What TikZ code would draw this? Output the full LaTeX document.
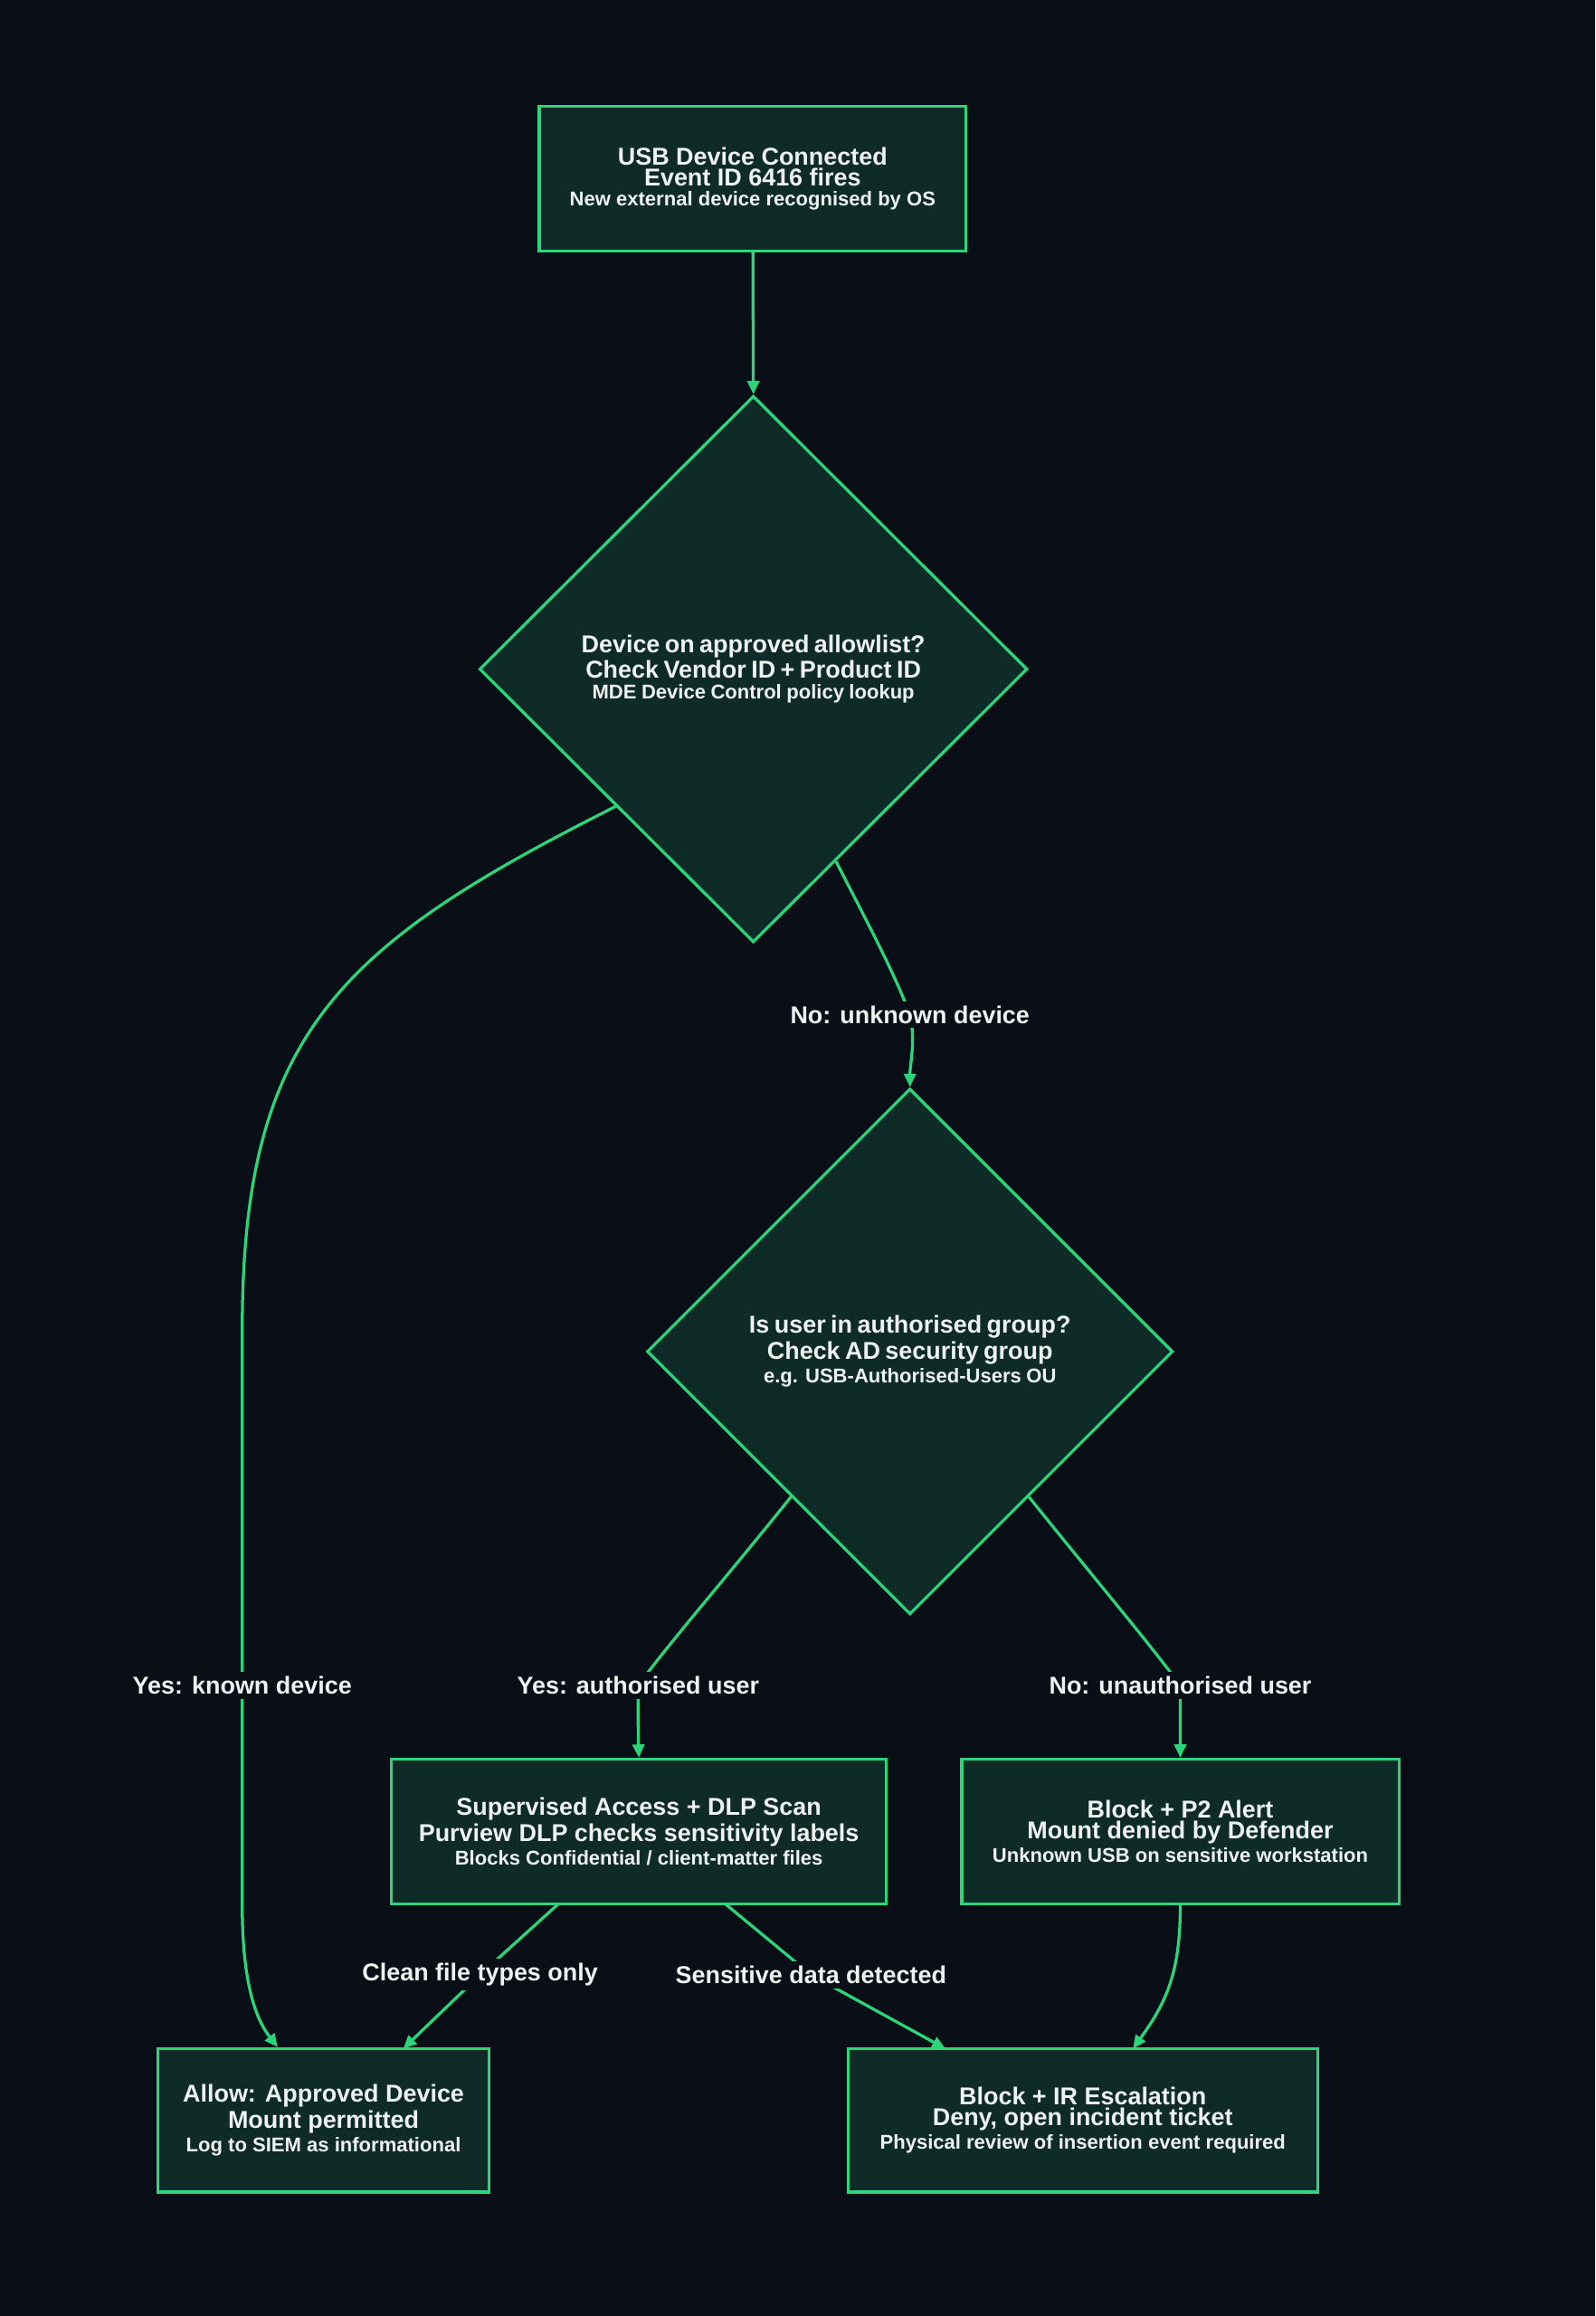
\documentclass[tikz,border=0pt]{standalone}
\usepackage{fontspec}
\setmainfont{Liberation Sans}
\usetikzlibrary{shapes.geometric,calc,arrows.meta}
\definecolor{bg}{HTML}{0A0E17}
\definecolor{nfill}{HTML}{0F2B28}
\definecolor{ln}{HTML}{2BD67B}
\definecolor{tx}{HTML}{EEF2F0}
\begin{document}
\begin{tikzpicture}[x=1pt,y=-1pt,
  boxn/.style={draw=ln,fill=nfill,line width=2pt,rectangle,inner sep=0pt,text=tx,font=\bfseries,align=center},
  dia/.style={draw=ln,fill=nfill,line width=2pt,diamond,inner sep=0pt,text=tx,font=\bfseries,align=center,text width=260pt},
  conn/.style={draw=ln,line width=2pt,-{Triangle[length=9pt,width=8pt]}},
  lab/.style={fill=bg,text=tx,font=\bfseries\fontsize{16.5}{20}\selectfont,inner sep=3pt}]
\newcommand{\mytl}[1]{{\fontsize{16.5}{22}\selectfont #1}}
\newcommand{\mysl}[1]{{\fontsize{13.5}{20}\selectfont #1}}
\fill[bg] (0,0) rectangle (1080,1568);
\node[boxn,minimum width=289pt,minimum height=98pt] (top) at (509.5,121) {\mytl{USB Device Connected}\\[1pt]\mytl{Event ID 6416 fires}\\[2pt]\mysl{New external device recognised by OS}};
\node[dia,minimum width=371pt,minimum height=370pt] (d1) at (510,453) {\mytl{Device on approved allowlist?}\\[1pt]\mytl{Check Vendor ID + Product ID}\\[2pt]\mysl{MDE Device Control policy lookup}};
\node[dia,minimum width=356pt,minimum height=356pt] (d2) at (616,915) {\mytl{Is user in authorised group?}\\[1pt]\mytl{Check AD security group}\\[2pt]\mysl{e.g. USB-Authorised-Users OU}};
\node[boxn,minimum width=335pt,minimum height=98pt] (sup) at (432.5,1240) {\mytl{Supervised Access + DLP Scan}\\[1pt]\mytl{Purview DLP checks sensitivity labels}\\[2pt]\mysl{Blocks Confidential / client-matter files}};
\node[boxn,minimum width=296pt,minimum height=98pt] (p2) at (799,1240) {\mytl{Block + P2 Alert}\\[1pt]\mytl{Mount denied by Defender}\\[2pt]\mysl{Unknown USB on sensitive workstation}};
\node[boxn,minimum width=224pt,minimum height=97pt] (allow) at (219,1435.5) {\mytl{Allow: Approved Device}\\[1pt]\mytl{Mount permitted}\\[2pt]\mysl{Log to SIEM as informational}};
\node[boxn,minimum width=318pt,minimum height=97pt] (ir) at (733,1435.5) {\mytl{Block + IR Escalation}\\[1pt]\mytl{Deny, open incident ticket}\\[2pt]\mysl{Physical review of insertion event required}};
\coordinate (l1) at (164,1141);
\coordinate (l2) at (616,687);
\coordinate (l3) at (432,1141);
\coordinate (l4) at (799,1141);
\coordinate (l5) at (325,1337);
\coordinate (l6) at (549,1337);
\draw[conn] (top) -- (d1.north);
\draw[conn] (d1.south west) .. controls (230,640) and (164,700) .. (164,900) -- (l1) -- (164,1290) .. controls (164,1345) and (174,1368) .. (188,1386);
\draw[conn] ($(d1.south)!0.3!(d1.east)$) .. controls (590,630) and (606,660) .. (l2) .. controls (620,705) and (616,720) .. (d2.north);
\draw[conn] ($(d2.south)!0.45!(d2.west)$) .. controls (490,1070) and (455,1110) .. (l3) .. controls (432,1160) and (432,1175) .. (sup.north);
\draw[conn] ($(d2.south)!0.45!(d2.east)$) .. controls (742,1070) and (776,1110) .. (l4) .. controls (799,1160) and (799,1175) .. (p2.north);
\draw[conn] (378,1289) -- (l5) -- (273,1387);
\draw[conn] (491,1289) -- (l6) -- (640,1387);
\draw[conn] (p2.south) .. controls (799,1335) and (790,1355) .. (767,1387);
\node[lab] at (l1) {Yes: known device};
\node[lab] at (l2) {No: unknown device};
\node[lab] at (l3) {Yes: authorised user};
\node[lab] at (l4) {No: unauthorised user};
\node[lab] at (l5) {Clean file types only};
\node[lab] at (l6) {Sensitive data detected};
\end{tikzpicture}
\end{document}
